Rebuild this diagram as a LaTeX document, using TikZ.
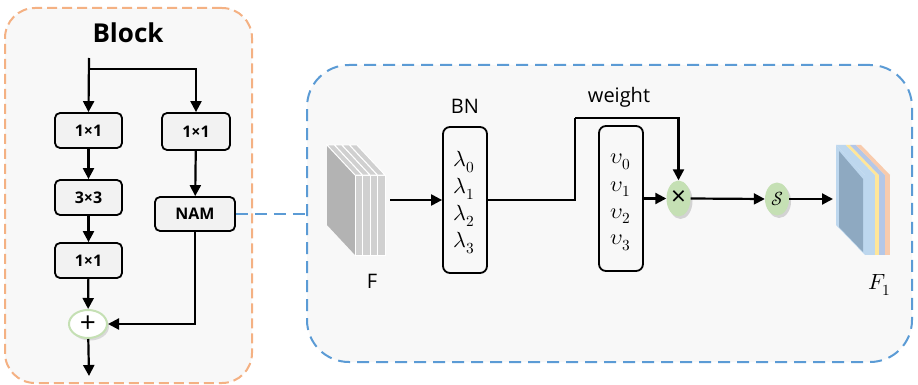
\documentclass[tikz,border=0pt]{standalone}
\usepackage{fontspec}
\usepackage{unicode-math}
\setmainfont{Open Sans}
\setmathfont{Latin Modern Math}
\usetikzlibrary{arrows.meta,shadows,shapes.geometric}

\definecolor{blockedge}{HTML}{F4B183}
\definecolor{paneledge}{HTML}{5B9BD5}
\definecolor{opfill}{HTML}{C5E0B4}
\definecolor{boxfill}{HTML}{F2F2F2}
\definecolor{panelfill}{HTML}{F8F8F8}
\definecolor{sidegray}{HTML}{B3B3B3}
\definecolor{slicegray}{HTML}{D0D0D0}
\definecolor{sideblue}{HTML}{8EA9C1}
\definecolor{sliceA}{HTML}{BDD7EE}
\definecolor{sliceB}{HTML}{FFE699}
\definecolor{sliceC}{HTML}{B4C7E7}
\definecolor{sliceD}{HTML}{F8CBAD}

\begin{document}
\begin{tikzpicture}[x=1pt,y=-1pt,
  line/.style={line width=2.2pt},
  arr/.style={line width=2.2pt,-{Triangle[length=11pt,width=11pt]}},
  layer/.style={draw=black,line width=1.8pt,rounded corners=5pt,fill=boxfill,
    minimum width=67pt,minimum height=35pt,inner sep=0pt,
    font=\fontsize{16}{19}\selectfont\bfseries},
  vecbox/.style={draw=black,line width=1.8pt,rounded corners=7pt,fill=panelfill,
    minimum width=44pt,minimum height=146pt,inner sep=0pt},
  coef/.style={inner sep=0pt,font=\fontsize{22}{26}\selectfont},
  op/.style={ellipse,fill=opfill,inner sep=0pt,minimum width=24pt,minimum height=34pt,
    drop shadow={shadow xshift=2pt,shadow yshift=-2.5pt,opacity=0.3}},
  caption/.style={inner sep=0pt,font=\fontsize{20}{24}\selectfont}]

\useasboundingbox (0,0) rectangle (918,385);

% the two frames
\node[draw=blockedge,line width=2pt,dash pattern=on 10pt off 5pt,rounded corners=30pt,
  fill=panelfill,minimum width=247pt,minimum height=375pt] (blk) at (128.5,195.5) {};
\node[draw=paneledge,line width=2pt,dash pattern=on 12pt off 7pt,rounded corners=42pt,
  fill=panelfill,minimum width=605pt,minimum height=297pt] (panel) at (609.5,213.5) {};

% ---- residual block ----
\node[inner sep=0pt,font=\fontsize{26}{30}\selectfont\bfseries] (title) at (128,33) {Block};
\coordinate (in) at (89,58);
\coordinate (split) at (89,69);
\node[layer] (c1) at (88.5,130.5) {1×1};
\node[layer] (c2) at (88.5,197.5) {3×3};
\node[layer] (c3) at (88.5,260.5) {1×1};
\node[layer,minimum width=68pt,minimum height=37pt] (r1) at (196,131.5) {1×1};
\node[layer,minimum width=80pt,minimum height=34pt] (nam) at (195,214) {NAM};
\node[ellipse,draw=opfill,line width=2pt,fill=white,inner sep=0pt,
  minimum width=38pt,minimum height=28pt,
  drop shadow={shadow xshift=2pt,shadow yshift=-2.5pt,opacity=0.25},
  font=\fontsize{28}{28}\selectfont] (add) at (88,324) {+};
\coordinate (out) at (89,376);

\draw[arr] (in) -- (c1.north);
\draw[arr] (split) -| (r1.north);
\draw[arr] (c1) -- (c2);
\draw[arr] (c2) -- (c3);
\draw[arr] (c3) -- (add);
\draw[arr] (r1) -- (nam);
\draw[arr] (nam.south) |- (add.east);
\draw[arr] (add) -- (out);

% NAM expanded in the panel
\draw[paneledge,line width=2pt,dash pattern=on 12pt off 7pt] (nam.east) -- (nam.east -| panel.west);

% ---- NAM internals ----
% input feature map F
\fill[sidegray] (355,175) -- (355,255) -- (327,225) -- (327,145) -- cycle;
\foreach \i in {0,1,2,3}{
  \pgfmathsetmacro{\xa}{355+7.5*\i}
  \pgfmathsetmacro{\xb}{362.5+7.5*\i}
  \filldraw[fill=slicegray,draw=white,line width=1pt] (\xa,175) rectangle (\xb,255);
  \filldraw[fill=slicegray,draw=white,line width=1pt]
    (\xa,175) -- (\xb,175) -- (\xb-28,145) -- (\xa-28,145) -- cycle;
}
\node[caption] (flabel) at (372,281) {F};
\coordinate (fout) at (390,200);

\node[vecbox] (bn) at (465,200) {};
\node[caption] (bnlabel) at (465,106) {BN};
\node[coef] (l0) at (464,162) {$\lambda_0$};
\node[coef] (l1) at (464,189) {$\lambda_1$};
\node[coef] (l2) at (464,216) {$\lambda_2$};
\node[coef] (l3) at (464,243) {$\lambda_3$};

\node[vecbox,minimum height=145pt] (wbox) at (621,198.5) {};
\node[coef] (v0) at (621,162) {$\upsilon_0$};
\node[coef] (v1) at (621,189) {$\upsilon_1$};
\node[coef] (v2) at (621,216) {$\upsilon_2$};
\node[coef] (v3) at (621,243) {$\upsilon_3$};

\node[op,minimum height=36pt,font=\fontsize{26}{26}\selectfont] (mul) at (678.5,198.5) {×};
\node[op,minimum height=33pt,font=\fontsize{19}{19}\selectfont] (sig) at (777,199) {$\mathcal{S}$};

\coordinate (wturn) at (575,118);
\node[caption] (wlabel) at (619,97) {weight};

\draw[arr] (fout) -- (bn.west);
\draw[line] (bn.east) -| (wturn);
\draw[arr] (wturn) -| (mul.north);
\draw[arr] (wbox.east) -- (mul.west);
\draw[arr] (mul.east) -- (sig.west);
\coordinate (f1in) at (833,199);
\draw[arr] (sig.east) -- (f1in);

% output feature map F1
\fill[sliceA] (865,175) -- (865,255) -- (836,225) -- (836,145) -- cycle;
\fill[sideblue] (863,179) -- (863,252) -- (839,227) -- (839,151) -- cycle;
\foreach \xa/\xb/\c in {865/875/sliceA,875/879/sliceB,879/885/sliceC,885/890/sliceD}{
  \fill[\c] (\xa,175) rectangle (\xb,255);
  \fill[\c] (\xa,175) -- (\xb,175) -- (\xb-29,145) -- (\xa-29,145) -- cycle;
}
\node[caption,font=\fontsize{22}{26}\selectfont] (f1label) at (880,285) {$F_1$};

\end{tikzpicture}
\end{document}
